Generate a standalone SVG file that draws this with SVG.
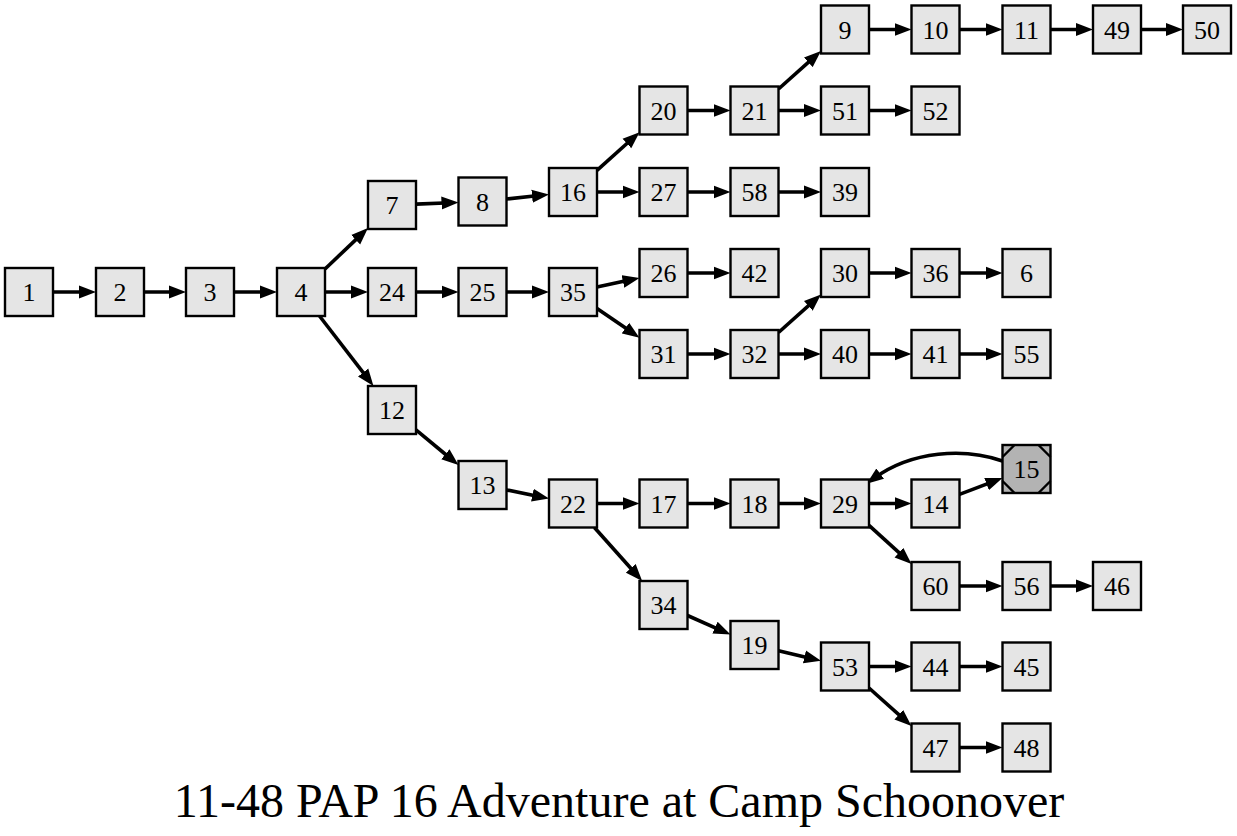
<svg xmlns="http://www.w3.org/2000/svg" width="1237" height="836" viewBox="0 0 1237 836">
<style>
.n rect{fill:#e5e5e5;stroke:#000;stroke-width:2.4}
.n text{font-family:"Liberation Serif","Times New Roman",serif;font-size:26px;text-anchor:middle;fill:#000}
#edges path{fill:none;stroke:#000;stroke-width:3.6;marker-end:url(#a)}
.title{font-family:"Liberation Serif","Times New Roman",serif;font-size:48px;text-anchor:middle;fill:#000}
</style>
<defs>
<marker id="a" markerWidth="17" markerHeight="14" refX="9" refY="7" orient="auto" markerUnits="userSpaceOnUse"><path d="M0,0.5 L17,7 L0,13.5 z" fill="#000"/></marker>
</defs>
<rect width="1237" height="836" fill="#fff"/>
<g id="edges">
<path d="M53,292 H88"/>
<path d="M144,292 H178"/>
<path d="M234,292 H269"/>
<path d="M325,269 L362.2,233.6"/>
<path d="M325,292 H360"/>
<path d="M319.5,316 L368.6,379.7"/>
<path d="M416,204.1 L450.5,202.7"/>
<path d="M506.5,199 L541,195.3"/>
<path d="M597,170.4 L633.6,137.5"/>
<path d="M597,192 H631.5"/>
<path d="M687.5,110.5 H722.5"/>
<path d="M778.5,89 L815,56.3"/>
<path d="M778.5,110.5 H813"/>
<path d="M869,29.5 H903.5"/>
<path d="M959.5,29.5 H994.5"/>
<path d="M1050.5,29.5 H1085"/>
<path d="M1141,29.5 H1175"/>
<path d="M869,110.5 H903.5"/>
<path d="M687.5,192 H722.5"/>
<path d="M778.5,192 H813"/>
<path d="M416,292 H450.5"/>
<path d="M506.5,292 H541"/>
<path d="M597,287 L631.7,279.6"/>
<path d="M597,308.4 L632.9,333.1"/>
<path d="M687.5,273 H722.5"/>
<path d="M687.5,354 H722.5"/>
<path d="M778.5,332.5 L815,299.8"/>
<path d="M778.5,354 H813"/>
<path d="M869,273 H903.5"/>
<path d="M959.5,273 H994.5"/>
<path d="M869,354 H903.5"/>
<path d="M959.5,354 H994.5"/>
<path d="M416,429.9 L452.3,460"/>
<path d="M506.5,489.9 L541.2,497"/>
<path d="M597,503.5 H631.5"/>
<path d="M594.4,527.5 L636.8,575"/>
<path d="M687.5,503.5 H722.5"/>
<path d="M778.5,503.5 H813"/>
<path d="M869,503.5 H903.5"/>
<path d="M959.5,494.4 L995,480.9"/>
<path d="M1002.5,461 C965,448 912,450 873,479"/>
<path d="M869,525.4 L905.6,558.7"/>
<path d="M959.5,586 H994.5"/>
<path d="M1050.5,586 H1085"/>
<path d="M687.5,615.5 L723.2,631.3"/>
<path d="M778.5,650.7 L813.2,659"/>
<path d="M869,666.5 H903.5"/>
<path d="M959.5,666.5 H994.5"/>
<path d="M869,688 L905.5,720.7"/>
<path d="M959.5,747.5 H994.5"/>
</g>
<g id="n1" class="n"><rect x="5" y="268" width="48" height="48"/><text x="29" y="301">1</text></g>
<g id="n2" class="n"><rect x="96" y="268" width="48" height="48"/><text x="120" y="301">2</text></g>
<g id="n3" class="n"><rect x="186" y="268" width="48" height="48"/><text x="210" y="301">3</text></g>
<g id="n4" class="n"><rect x="277" y="268" width="48" height="48"/><text x="301" y="301">4</text></g>
<g id="n7" class="n"><rect x="368" y="181" width="48" height="48"/><text x="392" y="214">7</text></g>
<g id="n24" class="n"><rect x="368" y="268" width="48" height="48"/><text x="392" y="301">24</text></g>
<g id="n12" class="n"><rect x="368" y="386" width="48" height="48"/><text x="392" y="419">12</text></g>
<g id="n8" class="n"><rect x="458.5" y="177.5" width="48" height="48"/><text x="482.5" y="210.5">8</text></g>
<g id="n25" class="n"><rect x="458.5" y="268" width="48" height="48"/><text x="482.5" y="301">25</text></g>
<g id="n13" class="n"><rect x="458.5" y="461" width="48" height="48"/><text x="482.5" y="494">13</text></g>
<g id="n16" class="n"><rect x="549" y="168" width="48" height="48"/><text x="573" y="201">16</text></g>
<g id="n35" class="n"><rect x="549" y="268" width="48" height="48"/><text x="573" y="301">35</text></g>
<g id="n22" class="n"><rect x="549" y="479.5" width="48" height="48"/><text x="573" y="512.5">22</text></g>
<g id="n20" class="n"><rect x="639.5" y="86.5" width="48" height="48"/><text x="663.5" y="119.5">20</text></g>
<g id="n27" class="n"><rect x="639.5" y="168" width="48" height="48"/><text x="663.5" y="201">27</text></g>
<g id="n26" class="n"><rect x="639.5" y="249" width="48" height="48"/><text x="663.5" y="282">26</text></g>
<g id="n31" class="n"><rect x="639.5" y="330" width="48" height="48"/><text x="663.5" y="363">31</text></g>
<g id="n17" class="n"><rect x="639.5" y="479.5" width="48" height="48"/><text x="663.5" y="512.5">17</text></g>
<g id="n34" class="n"><rect x="639.5" y="581" width="48" height="48"/><text x="663.5" y="614">34</text></g>
<g id="n21" class="n"><rect x="730.5" y="86.5" width="48" height="48"/><text x="754.5" y="119.5">21</text></g>
<g id="n58" class="n"><rect x="730.5" y="168" width="48" height="48"/><text x="754.5" y="201">58</text></g>
<g id="n42" class="n"><rect x="730.5" y="249" width="48" height="48"/><text x="754.5" y="282">42</text></g>
<g id="n32" class="n"><rect x="730.5" y="330" width="48" height="48"/><text x="754.5" y="363">32</text></g>
<g id="n18" class="n"><rect x="730.5" y="479.5" width="48" height="48"/><text x="754.5" y="512.5">18</text></g>
<g id="n19" class="n"><rect x="730.5" y="621" width="48" height="48"/><text x="754.5" y="654">19</text></g>
<g id="n9" class="n"><rect x="821" y="5.5" width="48" height="48"/><text x="845" y="38.5">9</text></g>
<g id="n51" class="n"><rect x="821" y="86.5" width="48" height="48"/><text x="845" y="119.5">51</text></g>
<g id="n39" class="n"><rect x="821" y="168" width="48" height="48"/><text x="845" y="201">39</text></g>
<g id="n30" class="n"><rect x="821" y="249" width="48" height="48"/><text x="845" y="282">30</text></g>
<g id="n40" class="n"><rect x="821" y="330" width="48" height="48"/><text x="845" y="363">40</text></g>
<g id="n29" class="n"><rect x="821" y="479.5" width="48" height="48"/><text x="845" y="512.5">29</text></g>
<g id="n53" class="n"><rect x="821" y="642.5" width="48" height="48"/><text x="845" y="675.5">53</text></g>
<g id="n10" class="n"><rect x="911.5" y="5.5" width="48" height="48"/><text x="935.5" y="38.5">10</text></g>
<g id="n52" class="n"><rect x="911.5" y="86.5" width="48" height="48"/><text x="935.5" y="119.5">52</text></g>
<g id="n36" class="n"><rect x="911.5" y="249" width="48" height="48"/><text x="935.5" y="282">36</text></g>
<g id="n41" class="n"><rect x="911.5" y="330" width="48" height="48"/><text x="935.5" y="363">41</text></g>
<g id="n14" class="n"><rect x="911.5" y="479.5" width="48" height="48"/><text x="935.5" y="512.5">14</text></g>
<g id="n60" class="n"><rect x="911.5" y="562" width="48" height="48"/><text x="935.5" y="595">60</text></g>
<g id="n44" class="n"><rect x="911.5" y="642.5" width="48" height="48"/><text x="935.5" y="675.5">44</text></g>
<g id="n47" class="n"><rect x="911.5" y="723.5" width="48" height="48"/><text x="935.5" y="756.5">47</text></g>
<g id="n11" class="n"><rect x="1002.5" y="5.5" width="48" height="48"/><text x="1026.5" y="38.5">11</text></g>
<g id="n6" class="n"><rect x="1002.5" y="249" width="48" height="48"/><text x="1026.5" y="282">6</text></g>
<g id="n55" class="n"><rect x="1002.5" y="330" width="48" height="48"/><text x="1026.5" y="363">55</text></g>
<g id="n15" class="n"><rect x="1002.5" y="445" width="48" height="48" style="fill:#b3b3b3"/><path d="M1014.5,445 L1002.5,457 M1038.5,445 L1050.5,457 M1002.5,481 L1014.5,493 M1050.5,481 L1038.5,493" fill="none" stroke="#000" stroke-width="2.4"/><text x="1026.5" y="478">15</text></g>
<g id="n56" class="n"><rect x="1002.5" y="562" width="48" height="48"/><text x="1026.5" y="595">56</text></g>
<g id="n45" class="n"><rect x="1002.5" y="642.5" width="48" height="48"/><text x="1026.5" y="675.5">45</text></g>
<g id="n48" class="n"><rect x="1002.5" y="723.5" width="48" height="48"/><text x="1026.5" y="756.5">48</text></g>
<g id="n49" class="n"><rect x="1093" y="5.5" width="48" height="48"/><text x="1117" y="38.5">49</text></g>
<g id="n46" class="n"><rect x="1093" y="562" width="48" height="48"/><text x="1117" y="595">46</text></g>
<g id="n50" class="n"><rect x="1183" y="5.5" width="48" height="48"/><text x="1207" y="38.5">50</text></g>
<text class="title" x="619" y="817">11-48 PAP 16 Adventure at Camp Schoonover</text>
</svg>
